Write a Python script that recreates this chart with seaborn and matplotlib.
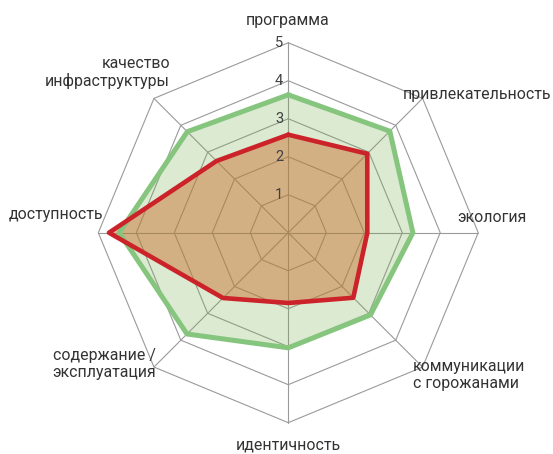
import numpy as np
import pandas as pd
import matplotlib.pyplot as plt
import seaborn as sns

# axes, clockwise from the top
categories = ['программа', 'привлекательность', 'экология', 'коммуникации\nс горожанами',
              'идентичность', 'содержание /\nэксплуатация', 'доступность', 'качество\nинфраструктуры']
green_vals = [3.63, 3.78, 3.28, 3.06, 3.03, 3.77, 4.45, 3.76]
red_vals = [2.58, 2.94, 2.08, 2.42, 1.85, 2.43, 4.72, 2.67]
levels = [1, 2, 3, 4, 5]

sns.set_theme(style='white')
plt.rcParams['font.family'] = ['Roboto', 'DejaVu Sans']

n = len(categories)
angles = np.linspace(0, 2 * np.pi, n, endpoint=False)
closed = np.append(angles, 2 * np.pi)

df = pd.concat([
    pd.DataFrame({'theta': closed, 'r': green_vals + green_vals[:1], 'series': 'green'}),
    pd.DataFrame({'theta': closed, 'r': red_vals + red_vals[:1], 'series': 'red'}),
], ignore_index=True)

fig = plt.figure(figsize=(5.53, 4.54), dpi=100)
ax = fig.add_axes([0.1778, 0.0689, 0.687, 0.837], projection='polar')
ax.set_theta_offset(np.pi / 2)
ax.set_theta_direction(-1)
ax.set_ylim(0, 5)
ax.set_xticks([])
ax.set_yticks([])
ax.grid(False)
ax.spines['polar'].set_visible(False)
ax.set_facecolor('none')

# octagonal grid
for lv in levels:
    ax.plot(closed, [lv] * (n + 1), color='#9a9a9a', lw=0.8, zorder=1, clip_on=False)
for a in angles:
    ax.plot([a, a], [0, 5], color='#9a9a9a', lw=0.8, zorder=1, clip_on=False)

ax.fill(closed, green_vals + green_vals[:1], color='#70ad47', alpha=0.25, lw=0, zorder=2)
ax.fill(closed, red_vals + red_vals[:1], color='#c8702f', alpha=0.47, lw=0, zorder=3)

sns.lineplot(data=df[df['series'] == 'green'], x='theta', y='r', sort=False, ax=ax,
             color='#86c57e', lw=3.6, zorder=4, legend=False)
sns.lineplot(data=df[df['series'] == 'red'], x='theta', y='r', sort=False, ax=ax,
             color='#cc2229', lw=3.3, zorder=5, legend=False)
ax.set_xlabel('')
ax.set_ylabel('')

for lv in levels:
    ax.annotate(str(lv), xy=(0, lv), xytext=(-5, 0), textcoords='offset pixels',
                ha='right', va='center', fontsize=10.5, color='#404040')

# label placement: offset in pixels from spoke end, alignment
label_pos = [
    ((-1, 22), 'center', 'center'),
    ((-20, 4), 'left', 'left'),
    ((14, 15), 'center', 'center'),
    ((-10, -8), 'left', 'left'),
    ((0, -22), 'center', 'center'),
    ((-50, 3), 'center', 'center'),
    ((5, 18), 'right', 'right'),
    ((16, 26), 'right', 'right'),
]
for a, lab, (off, ha, ma) in zip(angles, categories, label_pos):
    ax.annotate(lab, xy=(a, 5), xytext=off, textcoords='offset pixels',
                ha=ha, va='center', multialignment=ma, fontsize=11.4,
                color='#333333', linespacing=1.2, annotation_clip=False)

plt.savefig('out.png', dpi=100)
